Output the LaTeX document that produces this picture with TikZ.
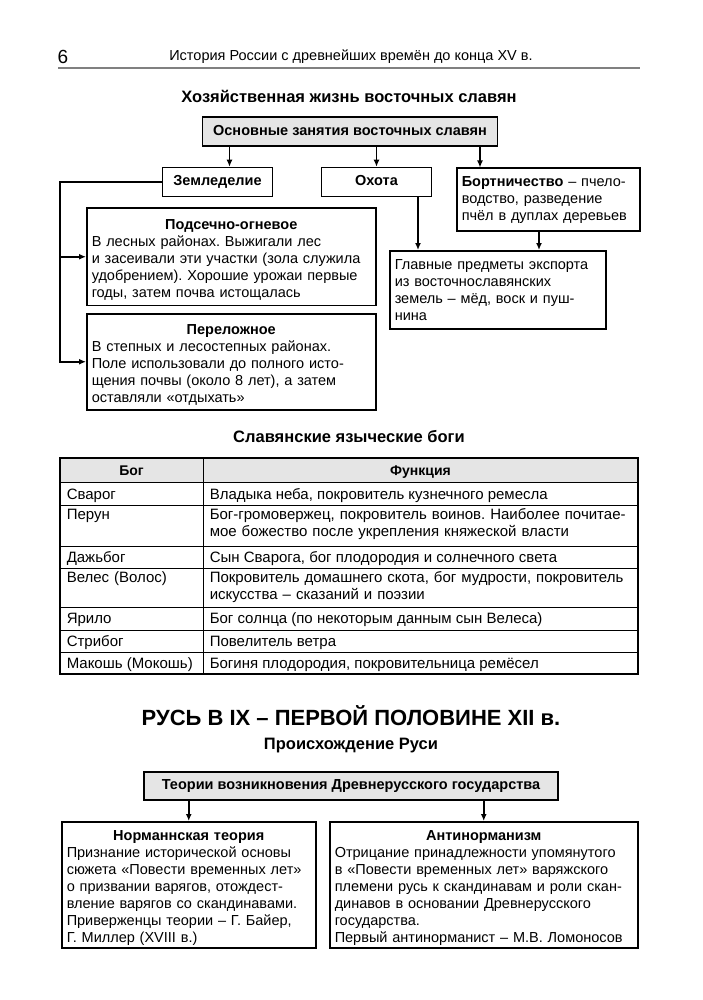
\documentclass[tikz,border=0pt]{standalone}
\usepackage{fontspec}
\setmainfont{Liberation Sans}
\usetikzlibrary{positioning,arrows.meta}
\definecolor{boxgray}{gray}{0.9}
\frenchspacing
\newcommand{\boxtitle}[1]{{\centering\bfseries\rule{0pt}{16pt}#1\par}}
\tikzset{
  txt/.style={font=\fontsize{14.5}{17}\selectfont},
  box/.style={draw,line width=1.5pt,txt,inner xsep=5pt,inner ysep=0pt,anchor=north west,align=left},
  headbox/.style={draw,line width=1.5pt,fill=boxgray,font=\bfseries\fontsize{14.5}{17}\selectfont,
    inner sep=0pt,text height=10.5pt,text depth=3pt},
  smallbox/.style={draw,line width=1.5pt,font=\bfseries\fontsize{14.5}{17}\selectfont,inner sep=0pt,
    minimum height=29pt,text height=10.5pt,text depth=3pt},
  cell/.style={font=\fontsize{15}{17}\selectfont,anchor=base west,inner sep=0pt,align=left},
  headcell/.style={font=\bfseries\fontsize{14}{17}\selectfont,anchor=base,inner sep=0pt},
  title/.style={font=\bfseries\fontsize{16.5}{19}\selectfont}
}
\begin{document}
\begin{tikzpicture}[x=1pt,y=-1pt,>={Latex[length=7pt,width=6pt]},line width=1.5pt]
\useasboundingbox (0,0) rectangle (702,1000);
% running head
\node[font=\fontsize{19}{22}\selectfont] (pnum) at (63,57) {6};
\node[font=\fontsize{14.5}{18}\selectfont] (runhead) at (351,57) {История России с древнейших времён до конца XV в.};
\draw[gray] (58,68) -- (640,68);

% occupations
\node[title] (t1) at (349,96) {Хозяйственная жизнь восточных славян};
\node[headbox,minimum width=295pt,minimum height=29pt] (main) at (350,131.5) {Основные занятия восточных славян};
\node[smallbox,minimum width=110pt] (zem) at (217.5,182) {Земледелие};
\node[smallbox,minimum width=110pt] (ohota) at (376.5,182) {Охота};
\node[box,text width=173pt,minimum height=63pt] (bort) at (456,167.5)
  {\textbf{Бортничество} – пчело-\\водство, разведение\\пчёл в дуплах деревьев};
\node[box,text width=279pt,minimum height=97pt] (podsech) at (86,207.5)
  {\boxtitle{Подсечно-огневое}В лесных районах. Выжигали лес\\и засеивали эти участки (зола служила\\удобрением). Хорошие урожаи первые\\годы, затем почва истощалась};
\node[box,text width=279pt,minimum height=96pt] (perel) at (86,313)
  {\boxtitle{Переложное}В степных и лесостепных районах.\\Поле использовали до полного исто-\\щения почвы (около 8 лет), а затем\\оставляли «отдыхать»};
\node[box,text width=206pt,minimum height=78pt] (export) at (389,250)
  {Главные предметы экспорта\\из восточнославянских\\земель – мёд, воск и пуш-\\нина};

\coordinate (a1) at (229.5,0);
\coordinate (a3) at (480,0);
\coordinate (a4) at (418,0);
\coordinate (a5) at (539,0);
\coordinate (rail) at (60,0);
\draw[->] (a1 |- main.south) -- (a1 |- zem.north);
\draw[->] (ohota.north |- main.south) -- (ohota.north);
\draw[->] (a3 |- main.south) -- (a3 |- bort.north);
\draw[->] (zem.west) -- (zem.west -| rail) -- (rail |- perel.west) -- (perel.west);
\draw[->] (rail |- podsech.west) -- (podsech.west);
\draw[->] (a4 |- ohota.south) -- (a4 |- export.north);
\draw[->] (a5 |- bort.south) -- (a5 |- export.north);

% gods table
\node[title] (t2) at (349,437) {Славянские языческие боги};
\fill[boxgray] (60,458) rectangle (638,482);
\draw[line width=0.9pt] (60,482) -- (638,482) (60,505) -- (638,505) (60,546) -- (638,546)
  (60,568) -- (638,568) (60,607) -- (638,607) (60,630) -- (638,630) (60,652) -- (638,652);
\draw[line width=0.9pt] (203,458) -- (203,674);
\draw (60,458) rectangle (638,674);
\node[headcell] (hgod) at (131.5,475) {Бог};
\node[headcell] (hfun) at (420.5,475) {Функция};
\node[cell] (g1) at (66,499) {Сварог};
\node[cell] (f1) at (209,499) {Владыка неба, покровитель кузнечного ремесла};
\node[cell,text width=130pt] (g2) at (66,519) {Перун};
\node[cell,text width=425pt] (f2) at (209,519) {Бог-громовержец, покровитель воинов. Наиболее почитае-\\мое божество после укрепления княжеской власти};
\node[cell] (g3) at (66,562) {Дажьбог};
\node[cell] (f3) at (209,562) {Сын Сварога, бог плодородия и солнечного света};
\node[cell,text width=130pt] (g4) at (66,582) {Велес (Волос)};
\node[cell,text width=425pt] (f4) at (209,582) {Покровитель домашнего скота, бог мудрости, покровитель\\искусства – сказаний и поэзии};
\node[cell] (g5) at (66,623) {Ярило};
\node[cell] (f5) at (209,623) {Бог солнца (по некоторым данным сын Велеса)};
\node[cell] (g6) at (66,646) {Стрибог};
\node[cell] (f6) at (209,646) {Повелитель ветра};
\node[cell] (g7) at (66,668) {Макошь (Мокошь)};
\node[cell] (f7) at (209,668) {Богиня плодородия, покровительница ремёсел};

% origin of Rus
\node[font=\bfseries\fontsize{22}{25}\selectfont] (t3) at (351,716) {РУСЬ В IX – ПЕРВОЙ ПОЛОВИНЕ XII в.};
\node[title] (t4) at (351,746) {Происхождение Руси};
\node[headbox,minimum width=414pt,minimum height=28pt] (theory) at (351,786) {Теории возникновения Древнерусского государства};
\node[box,text width=244pt,minimum height=126pt] (norm) at (61,821)
  {\boxtitle{Норманнская теория}Признание исторической основы\\сюжета «Повести временных лет»\\о призвании варягов, отождест-\\вление варягов со скандинавами.\\Приверженцы теории – Г. Байер,\\Г. Миллер (XVIII в.)};
\node[box,text width=298pt,minimum height=126pt] (anti) at (329,821)
  {\boxtitle{Антинорманизм}Отрицание принадлежности упомянутого\\в «Повести временных лет» варяжского\\племени русь к скандинавам и роли скан-\\динавов в основании Древнерусского\\государства.\\Первый антинорманист – М.В. Ломоносов};
\draw[->] (norm.north |- theory.south) -- (norm.north);
\draw[->] (anti.north |- theory.south) -- (anti.north);
\end{tikzpicture}
\end{document}
